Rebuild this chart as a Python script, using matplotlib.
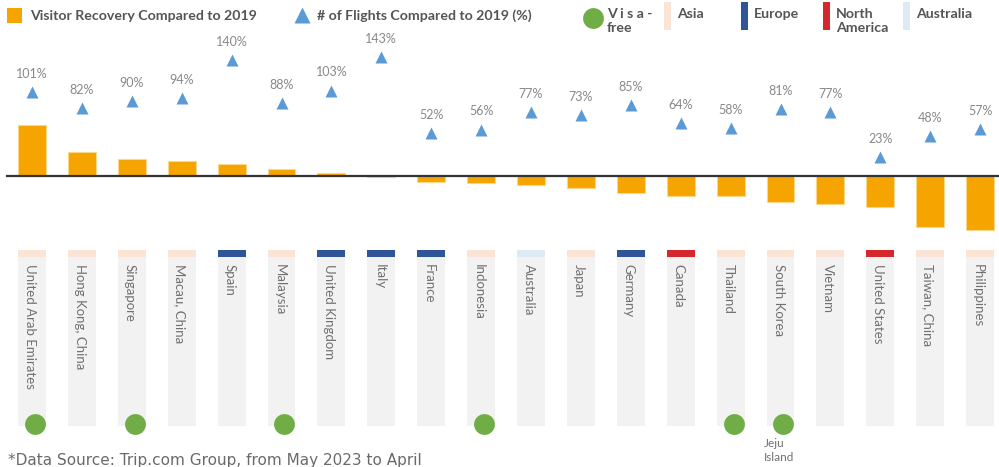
import matplotlib
matplotlib.use("Agg")
import matplotlib.pyplot as plt
from matplotlib.patches import Rectangle
from matplotlib.lines import Line2D

plt.rcParams['font.family'] = ['Lato', 'DejaVu Sans']

countries = ["United Arab Emirates", "Hong Kong, China", "Singapore", "Macau, China",
             "Spain", "Malaysia", "United Kingdom", "Italy", "France", "Indonesia",
             "Australia", "Japan", "Germany", "Canada", "Thailand", "South Korea",
             "Vietnam", "United States", "Taiwan, China", "Philippines"]
visitor_recovery = [51, 24.3, 16.7, 15.3, 11.7, 7.3, 3, -1.3, -6, -7.3,
                    -9, -12.3, -17.3, -19.7, -20, -25.7, -27.7, -31.3, -51, -54]
flights_pct = [101, 82, 90, 94, 140, 88, 103, 143, 52, 56,
               77, 73, 85, 64, 58, 81, 77, 23, 48, 57]
regions = ["Asia", "Asia", "Asia", "Asia", "Europe", "Asia", "Europe", "Europe", "Europe", "Asia",
           "Australia", "Asia", "Europe", "North America", "Asia", "Asia", "Asia", "North America",
           "Asia", "Asia"]
visa_free = [True, False, True, False, False, True, False, False, False, True,
             False, False, False, False, True, True, False, False, False, False]
region_names = ["Asia", "Europe", "North America", "Australia"]
region_colors = {"Asia": "#F9E4D6", "Europe": "#2E5597", "North America": "#D5282E",
                 "Australia": "#DDE9F5"}

ORANGE = "#F5A400"
BLUE = "#5B9BD5"
GREEN = "#70AD47"
TXT = "#555555"

W, H = 999, 467
fig = plt.figure(figsize=(W / 100, H / 100), dpi=100)
ax = fig.add_axes([0, 0, 1, 1])
ax.set_axis_off()

x0, dx = 32, 49.9
zero_px = 176
ax.set_xlim(-x0 / dx, (W - x0) / dx)
ax.set_ylim(-(H - zero_px), zero_px)

n = len(countries)
xs = list(range(n))

# label boxes
box_w = 0.56
for i in xs:
    ax.add_patch(Rectangle((i - box_w / 2, -250), box_w, 250 - 81, facecolor="#F2F2F2",
                           edgecolor="none", zorder=1))
    ax.add_patch(Rectangle((i - box_w / 2, -81), box_w, 7, facecolor=region_colors[regions[i]],
                           edgecolor="none", zorder=1))
    ax.text(i - 0.04, -88, countries[i], rotation=-90, ha="center", va="top",
            fontsize=9.5, color="#707070", zorder=3)

# bars
ax.bar(xs, visitor_recovery, width=box_w, color=ORANGE, edgecolor="#FBD78C",
       linewidth=0.8, zorder=2)
ax.axhline(0, xmin=7 / W, xmax=1, color="#333333", lw=1.6, zorder=4)

# visa-free circles
for i in xs:
    if visa_free[i]:
        ax.plot(i + 0.06, -248, "o", ms=15, color=GREEN, mec="none", zorder=4)
ax.text(15 - 0.34, -262, "Jeju\nIsland", ha="left", va="top", fontsize=8.5,
        color="#707070", linespacing=1.3)

# flights triangles on twin axis
ax2 = ax.twinx()
ax2.set_axis_off()
k = 0.83
ax2.set_ylim(-(H - zero_px) / k, zero_px / k)
ax2.plot(xs, flights_pct, "^", ms=9, color=BLUE, mec="none", zorder=5)
for i, v in zip(xs, flights_pct):
    ax2.annotate(f"{v}%", (i, v), xytext=(0, 13), textcoords="offset points",
                 ha="center", va="center", fontsize=9, color="#888888")

# legend (figure pixel coords)
def fx(p):
    return p / W

def fy(p):
    return 1 - p / H

fig.patches.append(Rectangle((fx(7), fy(23)), fx(15), 15 / H, facecolor=ORANGE,
                             edgecolor="none", transform=fig.transFigure, figure=fig))
fig.text(fx(30), fy(16), "Visitor Recovery Compared to 2019", fontsize=10.2, fontweight="bold",
         color=TXT, va="center", ha="left")
fig.lines.append(Line2D([fx(302)], [fy(15)], marker="^", ms=11, color=BLUE, mec="none",
                        transform=fig.transFigure, figure=fig))
fig.text(fx(317), fy(16), "# of Flights Compared to 2019 (%)", fontsize=10.2, fontweight="bold",
         color=TXT, va="center", ha="left")
fig.lines.append(Line2D([fx(593)], [fy(18)], marker="o", ms=15, color=GREEN, mec="none",
                        transform=fig.transFigure, figure=fig))
fig.text(fx(607), fy(8), "V i s a -\nfree", fontsize=10.2, fontweight="bold", color=TXT,
         va="top", ha="left", linespacing=1.15)

leg_pos = {"Asia": 664, "Europe": 741, "North America": 823, "Australia": 903}
leg_lbl = {"Asia": "Asia", "Europe": "Europe", "North America": "North\nAmerica",
           "Australia": "Australia"}
for r in region_names:
    px = leg_pos[r]
    fig.patches.append(Rectangle((fx(px), fy(30)), fx(7), 28 / H,
                                 facecolor=region_colors[r], edgecolor="none",
                                 transform=fig.transFigure, figure=fig))
    fig.text(fx(px + 13), fy(8), leg_lbl[r], fontsize=10.2, fontweight="bold", color=TXT,
             va="top", ha="left", linespacing=1.15)

fig.text(fx(8), fy(461), "*Data Source: Trip.com Group, from May 2023 to April",
         fontsize=11, color="#6a6a6a", va="center", ha="left", family="DejaVu Sans")

fig.savefig("out.png", dpi=100)
